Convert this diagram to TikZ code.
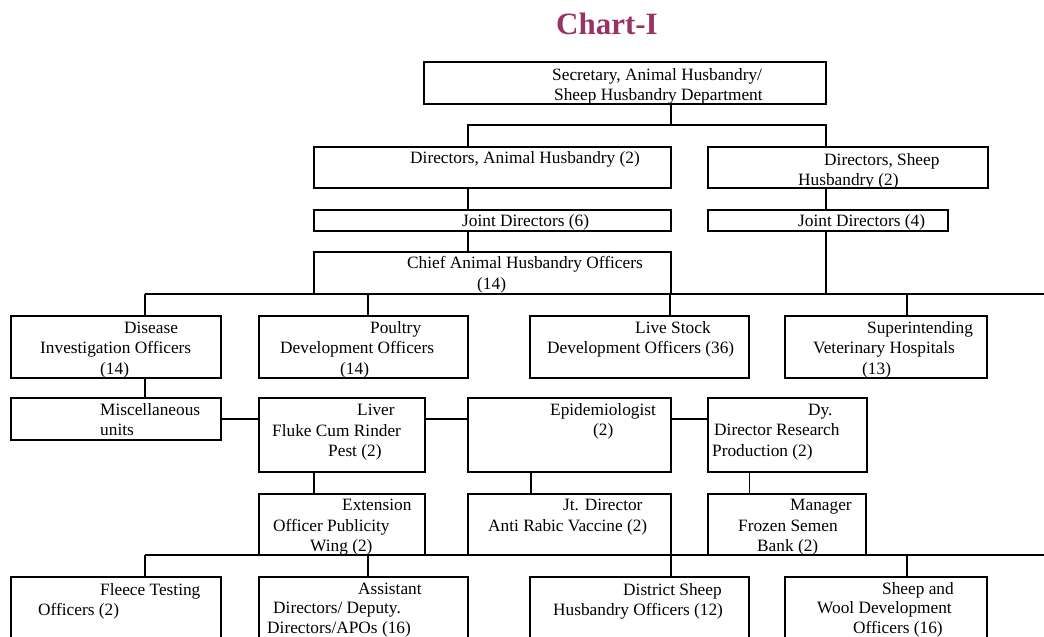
\documentclass[tikz,border=0pt]{standalone}
\usepackage{fontspec}
\setmainfont{Liberation Serif}
\definecolor{titlecol}{RGB}{153,51,102}
\begin{document}
\begin{tikzpicture}[x=1pt,y=-1pt,
  box/.style={draw=black, line width=1.9pt},
  ln/.style={draw=black, line width=1.3pt},
  thin/.style={draw=black, line width=0.9pt},
  txt/.style={anchor=base west, align=left, inner sep=0pt, font=\fontsize{17.3}{20.5}\selectfont},
  txtb/.style={txt, font=\fontsize{17.3}{19.5}\selectfont}]
\useasboundingbox (0,0) rectangle (1044,637);
\clip (0,0) rectangle (1044,637);
\fill[white] (0,0) rectangle (1044,637);
% title
\node[font=\fontsize{31}{36}\selectfont\bfseries, text=titlecol] (title) at (607,24) {Chart-I};
% boxes
\newcommand{\bx}[5]{\path[box] (#2,#3) rectangle (#4,#5); \node[inner sep=0pt, minimum width=#4pt-#2pt, minimum height=#5pt-#3pt] (#1) at ({(#2+#4)/2},{(#3+#5)/2}) {};}
\bx{sec}{424}{62}{826}{104}
\bx{dah}{314}{147}{671}{188}
\bx{dsh}{708}{147}{988}{188}
\bx{jd6}{314}{210}{671}{231}
\bx{jd4}{708}{210}{948}{231}
\bx{cah}{314}{252}{671}{294}
\bx{dio}{11}{316}{221}{378}
\bx{pdo}{259}{316}{468}{378}
\bx{lsd}{530}{316}{749}{378}
\bx{svh}{785}{316}{987}{378}
\bx{mis}{11}{398}{221}{440}
\bx{lfr}{259}{398}{425}{472}
\bx{epi}{468}{398}{671}{472}
\bx{ddr}{708}{398}{867}{472}
\bx{eop}{259}{494}{425}{555}
\bx{jdv}{468}{494}{671}{555}
\bx{mfs}{708}{494}{866}{555}
\bx{fto}{11}{577}{221}{650}
\bx{ado}{259}{577}{468}{650}
\bx{dso}{530}{577}{749}{650}
\bx{swd}{785}{577}{987}{650}
% texts (anchor = baseline of the last line)
\node[txt] (secT) at (552,100.5) {Secretary, Animal Husbandry/\\\hspace*{2pt}Sheep Husbandry Department};
\node[txt] (dahT) at (410,163) {Directors, Animal Husbandry (2)};
\node[txt] (dshT) at (798,185.5) {\hspace*{26pt}Directors, Sheep\\Husbandry (2)};
\node[txt] (jd6T) at (462,226) {Joint Directors (6)};
\node[txt] (jd4T) at (798,226) {Joint Directors (4)};
\node[txt] (cahT) at (407,289) {Chief Animal Husbandry Officers\\\hspace*{70pt}(14)};
\node[txt] (dioT) at (40,374) {\hspace*{84pt}Disease\\Investigation Officers\\\hspace*{60pt}(14)};
\node[txt] (pdoT) at (280,374) {\hspace*{90pt}Poultry\\Development Officers\\\hspace*{60pt}(14)};
\node[txt] (lsdT) at (547,353.5) {\hspace*{88pt}Live Stock\\Development Officers (36)};
\node[txt] (svhT) at (813,374) {\hspace*{54pt}Superintending\\Veterinary Hospitals\\\hspace*{49pt}(13)};
\node[txt] (misT) at (100,435.5) {Miscellaneous\\units};
\node[txt] (lfrT) at (272,456.5) {\hspace*{85pt}Liver\\Fluke Cum Rinder\\\hspace*{56pt}Pest (2)};
\node[txt] (epiT) at (550,435.5) {Epidemiologist\\\hspace*{43pt}(2)};
\node[txt] (ddrT) at (712,456) {\hspace*{96pt}Dy.\\\hspace*{2pt}Director Research\\Production (2)};
\node[txt] (eopT) at (273,551.5) {\hspace*{69pt}Extension\\Officer Publicity\\\hspace*{37pt}Wing (2)};
\node[txt] (jdvT) at (488,531) {\hspace*{75pt}Jt. Director\\Anti Rabic Vaccine (2)};
\node[txt] (mfsT) at (738,551.5) {\hspace*{52pt}Manager\\Frozen Semen\\\hspace*{19pt}Bank (2)};
\node[txt] (ftoT) at (38,615.5) {\hspace*{62pt}Fleece Testing\\Officers (2)};
\node[txtb] (adoT) at (267,633) {\hspace*{91pt}Assistant\\\hspace*{6pt}Directors/ Deputy.\\Directors/APOs (16)};
\node[txt] (dsoT) at (553,615.5) {\hspace*{70pt}District Sheep\\Husbandry Officers (12)};
\node[txtb] (swdT) at (817,633) {\hspace*{65pt}Sheep and\\Wool Development\\\hspace*{36pt}Officers (16)};
% connectors
\coordinate (s1) at (671,125);
\coordinate (s2) at (468,125);
\coordinate (s3) at (826,125);
\draw[ln] (s1 |- sec.south) -- (s1);
\draw[ln] (s2 |- dah.north) -- (s2) -- (s3) -- (s3 |- dsh.north);
\draw[ln] (s2 |- dah.south) -- (s2 |- jd6.north);
\draw[ln] (s2 |- jd6.south) -- (s2 |- cah.north);
\draw[ln] (s3 |- dsh.south) -- (s3 |- jd4.north);
\coordinate (b1) at (145,294);
\coordinate (b2) at (1044,294);
\coordinate (d2) at (368,294);
\coordinate (d3) at (670,294);
\coordinate (d4) at (907,294);
\draw[ln] (s3 |- jd4.south) -- (s3 |- b1);
\draw[ln] (b1) -- (b2);
\draw[ln] (b1) -- (b1 |- dio.north);
\draw[ln] (d2) -- (d2 |- pdo.north);
\draw[ln] (d3) -- (d3 |- lsd.north);
\draw[ln] (d4) -- (d4 |- svh.north);
\draw[ln] (b1 |- dio.south) -- (b1 |- mis.north);
\draw[ln] (mis.east) -- (lfr.west |- mis.east);
\draw[ln] (lfr.east |- mis.east) -- (epi.west |- mis.east);
\draw[ln] (epi.east |- mis.east) -- (ddr.west |- mis.east);
\coordinate (v1) at (314,483);
\coordinate (v2) at (531,483);
\coordinate (v3) at (749,483);
\draw[ln] (v1 |- lfr.south) -- (v1 |- eop.north);
\draw[ln] (v2 |- epi.south) -- (v2 |- jdv.north);
\draw[thin] (v3 |- ddr.south) -- (v3 |- mfs.north);
\coordinate (c1) at (145,555);
\coordinate (c2) at (1044,555);
\coordinate (e2) at (368,555);
\coordinate (e3) at (671,555);
\coordinate (e4) at (907,555);
\draw[ln] (c1) -- (c2);
\draw[ln] (c1) -- (c1 |- fto.north);
\draw[ln] (e2) -- (e2 |- ado.north);
\draw[ln] (e3) -- (e3 |- dso.north);
\draw[ln] (e4) -- (e4 |- swd.north);
\end{tikzpicture}
\end{document}
